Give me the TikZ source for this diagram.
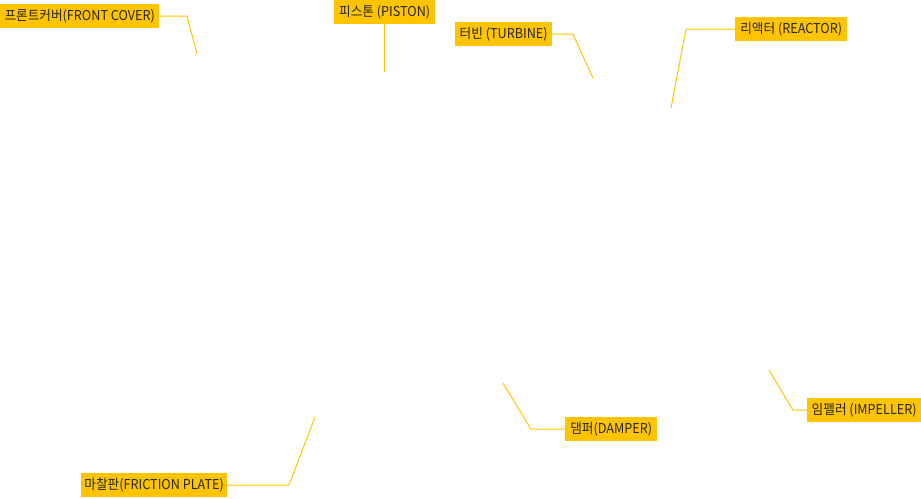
\documentclass[tikz,border=0pt]{standalone}
\usepackage{fontspec}
\setmainfont{Noto Sans CJK KR}[FakeStretch=0.93]
\definecolor{jaune}{RGB}{255,196,0}
\newcommand{\lien}[3]{\draw[fil] (#1) -- (#1 -| #2) -- (#3)}

\begin{document}
\begin{tikzpicture}[x=1pt,y=-1pt,
	boite/.style={fill=jaune,text=black!85,inner sep=0pt,minimum height=24pt,anchor=north west,font=\fontsize{13.6}{15}\selectfont},
	fil/.style={draw=jaune,line width=1pt}]
	\useasboundingbox (0,0) rectangle (921,498);
	\node[boite,minimum width=159pt] (cover) at (0,4) {프론트커버(FRONT COVER)};
	\node[boite,minimum width=101pt] (piston) at (334,0) {피스톤 (PISTON)};
	\node[boite,minimum width=97pt] (turbine) at (455,22) {터빈 (TURBINE)};
	\node[boite,minimum width=112pt] (reactor) at (735,17) {리액터 (REACTOR)};
	\node[boite,minimum width=92pt] (damper) at (565,417) {댐퍼(DAMPER)};
	\node[boite,minimum width=114pt] (impeller) at (807,398) {임펠러 (IMPELLER)};
	\node[boite,minimum width=146pt] (friction) at (81,473) {마찰판(FRICTION PLATE)};
	\coordinate (c1) at (187,16);
	\coordinate (p1) at (197,54);
	\coordinate (p2) at (384,72);
	\coordinate (c3) at (573,37);
	\coordinate (p3) at (593,78);
	\coordinate (c4) at (686,27);
	\coordinate (p4) at (671,108);
	\coordinate (c5) at (531,429);
	\coordinate (p5) at (503,383);
	\coordinate (c6) at (793,410);
	\coordinate (p6) at (769,370);
	\coordinate (c7) at (289,487);
	\coordinate (p7) at (315,417);
	\lien{cover.east}{c1}{p1};
	\draw[fil] (piston.south) -- (piston.south |- p2);
	\lien{turbine.east}{c3}{p3};
	\lien{reactor.west}{c4}{p4};
	\lien{damper.west}{c5}{p5};
	\lien{impeller.west}{c6}{p6};
	\lien{friction.east}{c7}{p7};
\end{tikzpicture}
\end{document}
